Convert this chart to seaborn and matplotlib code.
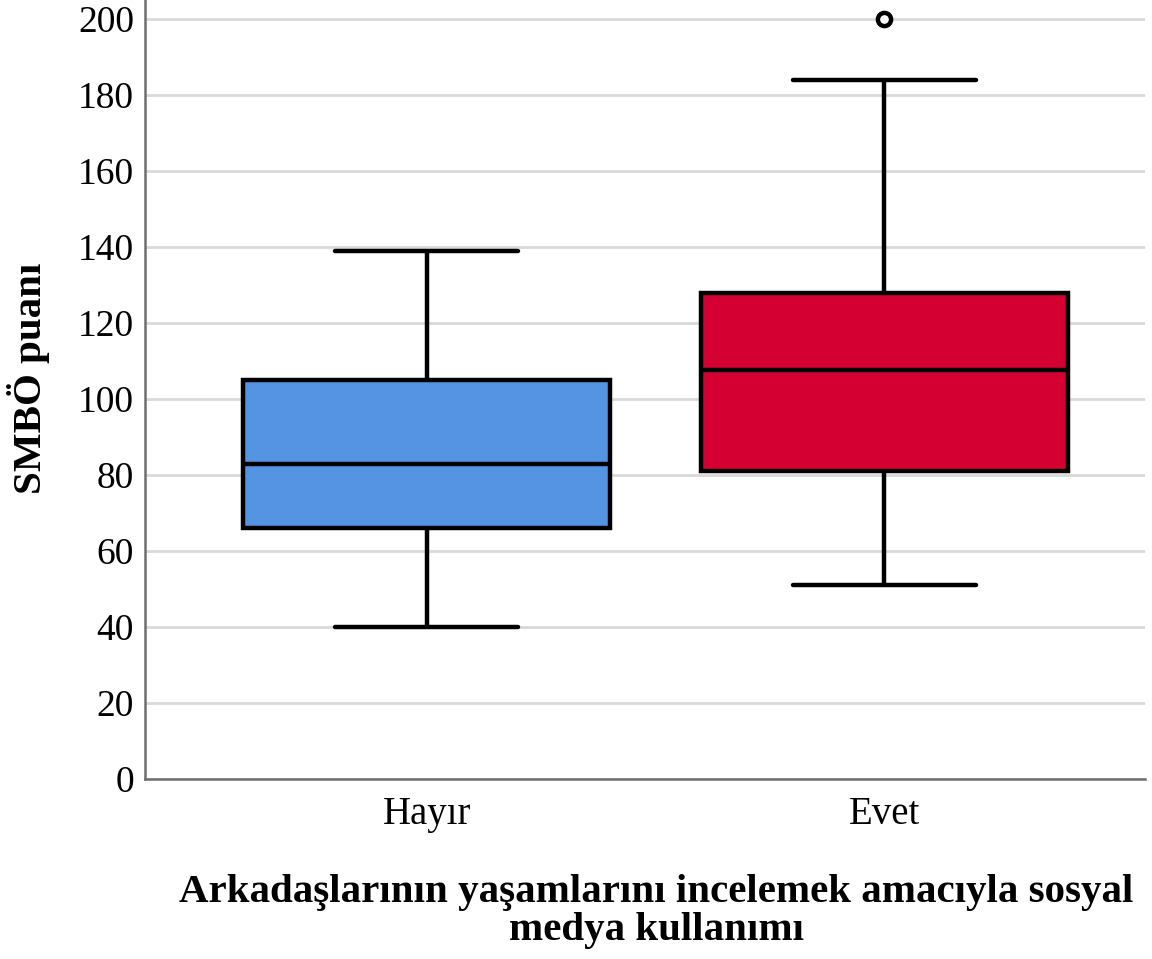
import matplotlib
matplotlib.use("Agg")
import matplotlib.pyplot as plt
import seaborn as sns
import pandas as pd

# ---- values (five-number summary per group) ----
groups = ["Hayır", "Evet"]
whisker_low = [40, 51]
q1 = [66, 81]
median = [83, 107.5]
q3 = [105, 128]
whisker_high = [139, 184]
outliers = [[], [200]]
colors = ["#5494E3", "#D50032"]

y_ticks = [0, 20, 40, 60, 80, 100, 120, 140, 160, 180, 200]
y_label = "SMBÖ puanı"
x_label = "Arkadaşlarının yaşamlarını incelemek amacıyla sosyal\nmedya kullanımı"


# build a small sample whose quartiles / whiskers give exactly the summary above
def sample_from_summary(lo, a, m, b, hi, out):
    k = len(out)
    return [lo] + [a] * 3 + [m] * (k + 1) + [b] * 3 + [hi] + list(out)


rows = []
for i, g in enumerate(groups):
    vals = sample_from_summary(whisker_low[i], q1[i], median[i], q3[i],
                               whisker_high[i], outliers[i])
    rows += [(g, v) for v in vals]
df = pd.DataFrame(rows, columns=["group", "score"])

sns.set_style("white")
plt.rcParams["font.family"] = ["Liberation Serif", "DejaVu Serif"]
plt.rcParams["text.color"] = "black"
plt.rcParams["xtick.color"] = "black"
plt.rcParams["ytick.color"] = "black"
plt.rcParams["axes.labelcolor"] = "black"

fig = plt.figure(figsize=(11.52, 9.59), dpi=100)
ax = fig.add_axes([0.1259, 0.1877, 0.868, 0.8123])

ax.set_axisbelow(True)
for t in y_ticks:
    ax.axhline(t, color="#d9d9d9", lw=2, zorder=0)

sns.boxplot(data=df, x="group", y="score", hue="group", order=groups,
            palette=colors, saturation=1, legend=False, width=0.8, whis=1.5,
            linecolor="black", linewidth=3.2, ax=ax,
            flierprops=dict(marker="o", markerfacecolor="white",
                            markeredgecolor="black", markeredgewidth=3.2,
                            markersize=9.5))

ax.set_xlim(-0.615, 1.569)
ax.set_ylim(0, 205)
ax.set_yticks(y_ticks)
ax.tick_params(axis="y", length=0, pad=8, labelsize=27)
ax.tick_params(axis="x", length=0, pad=12, labelsize=28)

for side in ["top", "right"]:
    ax.spines[side].set_visible(False)
for side in ["left", "bottom"]:
    ax.spines[side].set_color("#6e6e6e")
    ax.spines[side].set_linewidth(1.8)

ax.set_ylabel(y_label, fontsize=29.5, fontweight="bold")
ax.yaxis.set_label_coords(-0.095, 0.515)
ax.set_xlabel(x_label, fontsize=29.5, fontweight="bold", linespacing=1.02)
ax.xaxis.set_label_coords(0.511, -0.122)
ax.xaxis.label.set_va("top")

fig.savefig("out.png", dpi=100)
